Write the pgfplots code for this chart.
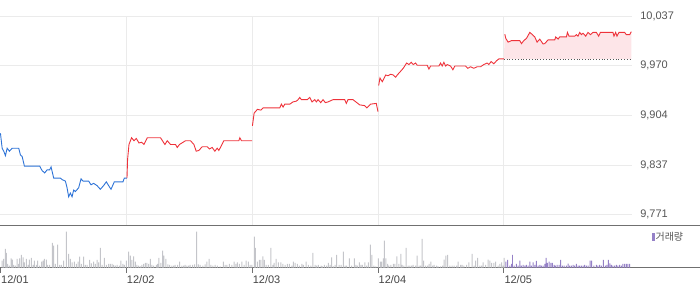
\documentclass[border=0pt]{standalone}
\usepackage{pgfplots}
\pgfplotsset{compat=1.18}
\usepgfplotslibrary{fillbetween}
\usepackage{fontspec}
\setmainfont{Liberation Sans}
\newfontfamily\kr{Noto Sans CJK KR}
\definecolor{gridc}{HTML}{EBEBEB}
\definecolor{axc}{HTML}{707070}
\definecolor{labc}{HTML}{555555}
\definecolor{datec}{HTML}{444444}
\definecolor{lineblue}{RGB}{45,115,215}
\definecolor{linered}{RGB}{238,50,58}
\definecolor{pinkfill}{HTML}{FDE5E8}
\definecolor{refc}{HTML}{555555}
\definecolor{volgray}{HTML}{C4C5CA}
\definecolor{volpurple}{HTML}{9581C7}

\pgfplotstableread{
x y
0 9880
1.7 9860
3.3 9856
5 9850
6.7 9860
9 9856
11.7 9860
18.3 9860
20 9851
21.7 9849
24 9836
39.3 9836
41.7 9830
44.3 9827
46.7 9831
49.3 9831
50.7 9835
53.3 9820
60 9820
61.7 9818
65 9816
66.7 9807
68.3 9795
70 9800
71.7 9795
73.3 9804
75 9802
78.3 9807
80.7 9819
82.7 9816
88.3 9816
90.7 9811
93.3 9813
96.7 9810
100 9805
103.3 9810
106 9815
108.3 9810
110.7 9805
114 9815
122.7 9815
124 9820
126.7 9820
}\dayone

\pgfplotstableread{
x y
126.7 9820
127.3 9845
128.7 9865
131.3 9874
133.7 9870
136 9873
138.7 9867
141.3 9868
143.7 9865
147 9874
160.3 9874
162.7 9869
164.7 9865
167 9870
170.3 9865
175.3 9865
177 9861
179.3 9865
185.3 9870
190.3 9870
193.7 9865
196 9856
198.7 9857
202 9862
207 9862
209.3 9859
212 9861
214.7 9856
217 9860
218.7 9857
223.7 9870
238.7 9870
239.7 9874
241.3 9870
252 9870
}\daytwo

\pgfplotstableread{
x y
252.3 9890
254 9907
257.3 9912
260.7 9911
263 9914
279.7 9914
281.3 9919
283 9915
284.7 9919
289.7 9919
293 9922
296.3 9923
298 9925
299.7 9928
301.3 9925
307.3 9925
309.7 9928
312 9922
314.7 9925
316.3 9922
318 9925
320.7 9921
323 9925
325.3 9921
328 9922
333 9925
344.7 9925
346.3 9920
348 9925
353 9925
359.7 9918
364.7 9917
367 9914
370.7 9919
376.3 9920
378 9909
}\daythree

\pgfplotstableread{
x y
378.7 9944
380 9954
382.3 9949
385.7 9958
388 9957
390.7 9959
393.3 9958
395.7 9955
397.3 9958
400.7 9963
403.3 9967
406.7 9974
409 9972
411.3 9975
413.3 9972
415.7 9974
417.3 9971
427.3 9971
429 9966
430.7 9970
439 9970
440.7 9974
442.3 9970
444 9975
445.7 9970
447.3 9972
450.7 9970
453 9965
455 9970
465.7 9970
468 9967
470.7 9969
474 9967
477.3 9969
480.7 9969
484 9972
487.3 9974
489 9972
491.3 9976
494 9973
496.7 9977
499 9979.5
504 9979.5
}\dayfour

\pgfplotstableread{
x y
505 10012.5
506 10007
508.3 10002
511.7 10004
520 10004
521.7 10000
524 10004
526.7 10007
530 10015
532.7 10012
535 10009
537.3 10002
540 10006
543.3 9999.6
545 10000
548.3 10005
555 10005
556 10009
558.3 10006
560 10009
566.7 10009
567.7 10015
569.3 10010
575 10010
576.7 10012
578.3 10010
580 10015
581.7 10012
583.3 10014
586 10010
588.3 10015
590.7 10012
593.3 10015
596.7 10015
599 10010
600.7 10015
613.3 10015
614.3 10010
616 10015
617.3 10010
619.3 10015
625 10015
626.7 10012
630 10012
631.7 10016
}\dayfive

\pgfplotstableread{
x h
1.7 7
3.3 8.7
5 18.7
6 14.7
7.3 3.7
9 2
10.7 9.3
12 8
13.3 2.7
15 2
16.7 8.7
18.3 3.7
19.3 9.3
21 12.7
22.7 10.3
24 5.3
26 8.7
27.7 2.7
29 8
31 9.7
32.7 2.7
34 7
36 2.7
37.3 7
39.3 2
41.3 6
42.7 7
44 8.7
46 8
47.3 2.7
49.3 2.7
52 24.7
53.3 22
55 3.7
57.3 23
59.3 2.7
61 2.7
63.3 7
66 36
68.3 13.7
70 8.7
71.7 5.3
74 6
76 3.7
77.7 6
79.3 11
81 3.7
83.3 11
85 2.7
86.7 2.7
89.3 7.7
91 4.3
93.3 6
95 3.7
96.7 7.7
98.3 5.3
100 19.7
101.7 2.7
104 9.7
106 2.7
108.3 3.7
110 3.7
111.7 3.7
113.3 2.7
115 2
116.7 2.7
119 2
120.7 7
122.7 3.7
124 2.7
126 7
128.3 16
130 12
131.7 7.7
133.3 11.3
135 6
136.7 2.7
138.3 2
140 1.3
141.7 2.7
143.3 3.7
145 4.7
146.7 4.7
148.3 3.7
150 8.7
151.7 2.7
153.3 2
156 2.7
157.3 3.7
158.7 9.7
160.7 4.7
162.3 17
163.7 12
165.7 8.7
167.7 3.3
169.3 2.7
171.7 2
173.3 2
175 2.7
177.3 2.7
179.3 6
181.7 2
183.3 2
185 2.7
186.7 2
188.3 2
190 2.7
192.3 2.7
194.3 3.3
196.3 36
198.3 3.3
200 2.7
202.7 2
205 3.3
206.7 6
209 8.7
210.7 2.7
212.7 2
215 2.7
217.3 2
220 1.3
223.3 6
225 2.7
226.7 2.7
229.3 3.7
231.7 2.7
234 6
235.7 3.7
237.3 5.3
239.3 3.7
241.7 6
244 2.7
246 7
248.3 6
250 2.7
251.7 2.7
254.3 31
255.3 19.7
257.3 6
259.3 7.7
260.7 7.7
262.7 11.3
264.3 7.7
266 2.7
268.3 2.7
270.7 19.7
272.7 2.7
274 4.7
276 8.7
278.3 5.3
280.7 5.3
282.7 3.7
285 2.7
287.3 3.7
289.3 3.7
291.7 2
293.3 6
295 4.7
297.3 3.7
299.3 2
301.7 3.7
303.3 2.7
306 6
308.3 2.7
310.7 2
312.7 14.7
315 2.7
316.7 2
318.3 2.7
321 2
322.3 1.3
324.3 2.7
326.7 2
328.3 4.7
330 2.7
331.7 10.3
333.3 1.3
335 2.7
336.7 12.7
339 2.7
341 2.7
343.3 16
345 2
346.7 2
349.3 9.3
351.7 2
354.3 9.3
356 2.7
357.3 2
359.3 5.3
361 2.7
362.3 2.7
365 5.3
366.7 2
368.3 5.3
370.3 23
372 12.7
374 2
376 1.3
378.3 9.3
380.3 6
381.7 6
383.3 9.3
384.3 27
386 9.3
387.7 3.7
389 2
391 2.7
393.3 3.7
395 3.7
397 11.3
399 3.7
401 13.7
402.3 2.7
404 2
406.3 19.7
408.3 2
410 2
411.7 2
413.3 2.7
415.7 2
417.3 12
419.3 2
420.7 2
422.3 28.7
423.7 7
425.7 2
427.7 2
429.3 3.7
431 6
432.7 2
434.3 2.7
436.7 2
438.3 1.3
440.7 1.3
442.7 2
444.3 8
446 12
447.7 12.7
450 2
452.3 2
454.3 2
456.7 2
458.3 6
460.7 2.7
462.3 2.7
464 2
466.7 2.7
469 5.3
472.3 13.7
474.3 2
475.7 7
477.7 9.7
480 2
481.7 2
483.3 5.3
485.7 2.7
488.3 8
490 7
491.7 4.7
494 4.7
495.7 6
498.3 2
500 3.7
501.7 5.3
503.3 2
504.3 9.7
}\volgray

\pgfplotstableread{
x h
506 6
507.7 7.7
510 2
511.7 3.7
512.7 12.7
514.3 2
516.7 3.7
518.3 2
520 7
521.7 2
523.3 2.7
525 2
526.7 2.7
528.3 2
530 6
531.7 2
533.3 5.3
535 2.7
536.7 6.7
538.3 2
540 2.7
541.7 2
543.3 2
545 3.7
546.3 9.7
547.7 4.7
549.3 6
551 4.7
552.7 4.7
554.3 2.7
555.7 2
557.3 2.7
559.3 2.7
561 7.7
562.7 2
564.3 2
566.7 2
568.3 4
570 2
571.7 2
573.3 2.7
575 2
576.7 3.7
578.3 2
580 2
581.7 2
583.3 2
585 2.7
586.7 2
588.3 2
590.3 7
592 7
594.3 2
596.7 2.7
598.3 2
600 2.7
601.7 2
603.7 7.7
605.7 2
607.3 2.7
608.7 7.7
610.3 4.3
611.7 2.7
613.3 2
615 2
616.7 2.7
618.3 2
620 2.7
621.7 2
623.3 3.7
625 3.7
626.7 3.7
628.3 3.7
630 3.7
}\volpurple

\begin{document}
\begin{tikzpicture}
\path (0pt,0pt) rectangle (700pt,289pt);
\begin{axis}[
  at={(0pt,63.7pt)}, anchor=south west,
  scale only axis, width=632pt, height=209.3pt,
  xmin=0, xmax=632, ymin=9757.2, ymax=10037,
  scaled y ticks=false, scaled x ticks=false,
  axis line style={draw=none},
  xtick={126,252,378,504}, xticklabels={},
  ytick={9771,9837.5,9904,9970.5,10037},
  yticklabels={{9,771},{9,837},{9,904},{9,970},{10,037}},
  yticklabel pos=right,
  yticklabel style={anchor=west, inner sep=0pt, xshift=8.5pt,
    font=\fontsize{11}{13}\selectfont, text=labc},
  major tick length=0pt,
  grid=major, grid style={draw=gridc, line width=0.9pt},
  no markers, clip=false,
]
\addplot[lineblue, line width=0.9pt] table[x=x,y=y] {\dayone};
\addplot[linered, line width=0.9pt] table[x=x,y=y] {\daytwo};
\addplot[linered, line width=0.9pt] table[x=x,y=y] {\daythree};
\addplot[linered, line width=0.9pt] table[x=x,y=y] {\dayfour};
\addplot[name path=ref, refc, dotted, line width=0.8pt] coordinates {(504,9979.5) (631.7,9979.5)};
\addplot[name path=dfive, linered, line width=0.9pt] table[x=x,y=y] {\dayfive};
\addplot[pinkfill, draw=none] fill between[of=dfive and ref];
\end{axis}
\begin{axis}[
  at={(0pt,21pt)}, anchor=south west,
  scale only axis, width=700pt, height=42.7pt,
  xmin=0, xmax=700, ymin=0, ymax=42.7,
  scaled y ticks=false, scaled x ticks=false,
  axis x line=box, axis y line=none,
  axis line style={draw=axc, line width=0.9pt},
  ytick=\empty,
  xtick={0,126,252,378,504}, xticklabels={12/01,12/02,12/03,12/04,12/05},
  xtick pos=bottom, tick align=outside, major tick length=5pt,
  xtick style={draw=axc, line width=0.9pt},
  xticklabel style={anchor=north west, inner sep=0pt, xshift=0.5pt, yshift=-3pt,
    font=\fontsize{11}{13}\selectfont, text=datec},
  clip=false,
  legend style={at={(axis cs:652,30.5)}, anchor=west, draw=none, fill=none,
    inner sep=0pt, outer sep=0pt, column sep=0pt,
    font=\kr\fontsize{10}{12}\selectfont, text=labc,
    nodes={inner sep=1pt}},
  legend image code/.code={\fill[volpurple] (0pt,-4pt) rectangle (3pt,4pt);},
]
\addplot[ybar, bar width=1pt, bar shift=0pt, fill=volgray, draw=none, forget plot] table[x=x,y=h] {\volgray};
\addplot[ybar, bar width=1pt, bar shift=0pt, fill=volpurple, draw=none] table[x=x,y=h] {\volpurple};
\addlegendentry{거래량}
\end{axis}
\end{tikzpicture}
\end{document}
